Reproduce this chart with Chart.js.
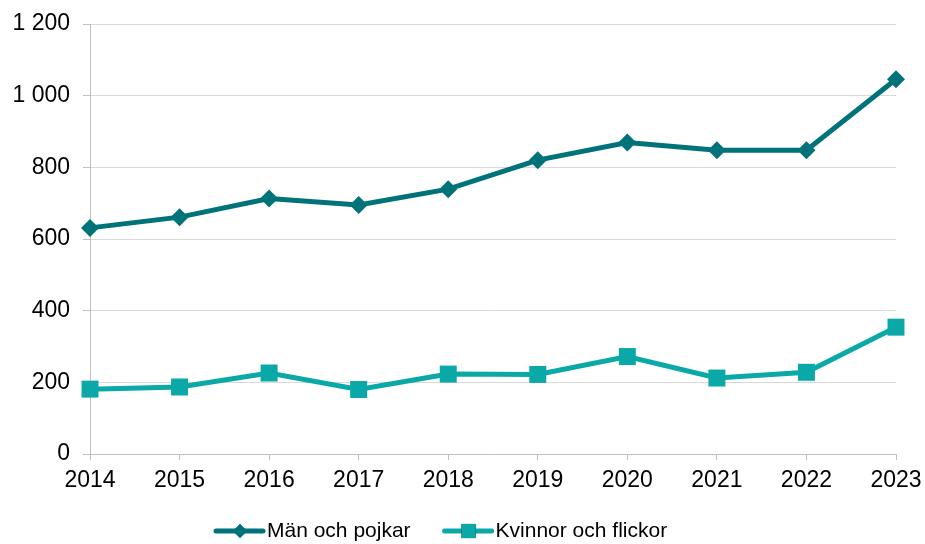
<!DOCTYPE html>
<html lang="sv">
<head>
  <meta charset="UTF-8">
  <title>Män och kvinnor 2014–2023</title>
  <script src="https://cdn.jsdelivr.net/npm/chart.js"></script>
  <style>
    body {
      margin: 0;
      background: #ffffff;
    }
    #wrap {
      width: 925px;
      height: 544px;
    }
  </style>
</head>
<body>
  <div id="wrap"><canvas id="chart"></canvas></div>

  <script>
    // Data
    const years = ['2014', '2015', '2016', '2017', '2018', '2019', '2020', '2021', '2022', '2023'];
    const manOchPojkar = [631, 661, 713, 695, 739, 820, 869, 848, 848, 1046];
    const kvinnorOchFlickor = [181, 187, 226, 180, 223, 222, 272, 212, 228, 354];
    const yTicks = [0, 200, 400, 600, 800, 1000, 1200];

    const darkTeal = '#00737a';
    const lightTeal = '#0aa9a8';
    const family = '"Liberation Sans", Arial, sans-serif';
    const axisFont = { family: family, size: 23 };
    const legendSize = 21;

    // Legend drawn as line + marker, like the original
    const lineLegend = {
      id: 'lineLegend',
      afterDraw(chart) {
        const ctx = chart.ctx;
        const y = 531;
        let x = 216;
        ctx.save();
        ctx.font = legendSize + 'px ' + family;
        ctx.textBaseline = 'middle';
        chart.data.datasets.forEach(ds => {
          ctx.strokeStyle = ds.borderColor;
          ctx.lineWidth = 5;
          ctx.lineCap = 'round';
          ctx.beginPath();
          ctx.moveTo(x, y);
          ctx.lineTo(x + 47, y);
          ctx.stroke();
          Chart.helpers.drawPoint(ctx, {
            pointStyle: ds.pointStyle,
            radius: ds.pointStyle === 'rect' ? 10 : 7,
            borderWidth: 0
          }, x + 24, y);
          ctx.fillStyle = ds.borderColor;
          ctx.fill();
          ctx.fillStyle = '#000000';
          ctx.fillText(ds.label, x + 51, y);
          x += 51 + ctx.measureText(ds.label).width + 34;
        });
        ctx.restore();
      }
    };

    new Chart(document.getElementById('chart'), {
      type: 'line',
      data: {
        labels: years,
        datasets: [{
          label: 'Män och pojkar',
          data: manOchPojkar,
          borderColor: darkTeal,
          backgroundColor: darkTeal,
          borderWidth: 5,
          pointStyle: 'rectRot',
          pointRadius: 9,
          pointHoverRadius: 9,
          pointBorderWidth: 0,
          tension: 0,
          clip: false
        }, {
          label: 'Kvinnor och flickor',
          data: kvinnorOchFlickor,
          borderColor: lightTeal,
          backgroundColor: lightTeal,
          borderWidth: 5,
          pointStyle: 'rect',
          pointRadius: 12,
          pointHoverRadius: 12,
          pointBorderWidth: 0,
          tension: 0,
          clip: false
        }]
      },
      options: {
        responsive: true,
        maintainAspectRatio: false,
        animation: false,
        layout: { padding: { left: 0, right: 29, top: 24, bottom: 0 } },
        plugins: {
          legend: { display: false },
          tooltip: { enabled: false }
        },
        scales: {
          x: {
            offset: false,
            afterFit(scale) {
              scale.height = 90;
              scale.paddingLeft = 0;
              scale.paddingRight = 0;
            },
            grid: {
              drawOnChartArea: false,
              drawTicks: true,
              tickLength: 6,
              color: '#bfbfbf'
            },
            border: { color: '#bfbfbf', width: 1 },
            ticks: { color: '#000000', font: axisFont, padding: 7, maxRotation: 0 }
          },
          y: {
            min: 0,
            max: 1200,
            afterFit(scale) {
              scale.width = 90;
              scale.paddingTop = 0;
              scale.paddingBottom = 0;
            },
            afterBuildTicks(scale) { scale.ticks = yTicks.map(v => ({ value: v })); },
            grid: {
              color: '#d9d9d9',
              tickLength: 7,
              tickColor: '#bfbfbf'
            },
            border: { color: '#bfbfbf', width: 1 },
            ticks: {
              color: '#000000',
              font: axisFont,
              padding: 13,
              callback: v => String(v).replace(/\B(?=(\d{3})+(?!\d))/g, ' ')
            }
          }
        }
      },
      plugins: [lineLegend]
    });
  </script>
</body>
</html>
